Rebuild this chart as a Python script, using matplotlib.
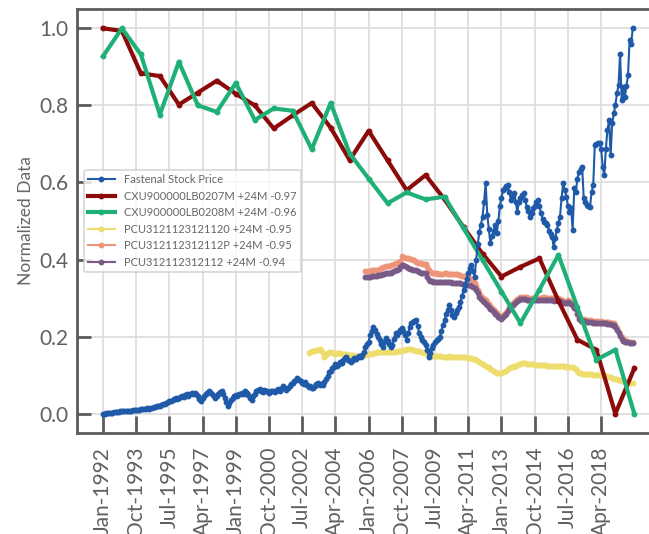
import numpy as np
import pandas as pd
import matplotlib
matplotlib.use('Agg')
import matplotlib.pyplot as plt

plt.rcParams['font.family'] = ['Lato', 'DejaVu Sans']

# monthly axis, Jan-1992 .. Dec-2019
months = pd.date_range('1992-01-01', '2019-12-01', freq='MS')

# Fastenal stock price, monthly, one row per year 1992..2019
fastenal = [
    0.000, 0.000, 0.001, 0.002, 0.002, 0.003, 0.003, 0.004, 0.004, 0.005, 0.005, 0.006,
    0.006, 0.006, 0.007, 0.007, 0.008, 0.007, 0.008, 0.009, 0.009, 0.010, 0.009, 0.010,
    0.011, 0.012, 0.012, 0.013, 0.014, 0.013, 0.015, 0.016, 0.017, 0.018, 0.019, 0.020,
    0.021, 0.022, 0.024, 0.026, 0.028, 0.030, 0.032, 0.034, 0.036, 0.038, 0.040, 0.038,
    0.040, 0.043, 0.046, 0.044, 0.048, 0.050, 0.047, 0.052, 0.054, 0.050, 0.055, 0.052,
    0.045, 0.038, 0.032, 0.040, 0.046, 0.050, 0.055, 0.060, 0.056, 0.050, 0.045, 0.040,
    0.045, 0.052, 0.056, 0.058, 0.050, 0.040, 0.030, 0.019, 0.028, 0.036, 0.040, 0.045,
    0.048, 0.045, 0.050, 0.052, 0.055, 0.050, 0.058, 0.054, 0.048, 0.042, 0.036, 0.045,
    0.052, 0.058, 0.062, 0.064, 0.060, 0.056, 0.062, 0.060, 0.058, 0.055, 0.060, 0.058,
    0.058, 0.056, 0.062, 0.065, 0.060, 0.066, 0.071, 0.066, 0.062, 0.068, 0.072, 0.078,
    0.080, 0.085, 0.088, 0.092, 0.088, 0.084, 0.080, 0.078, 0.082, 0.075, 0.070, 0.072,
    0.068, 0.066, 0.072, 0.076, 0.079, 0.074, 0.078, 0.075, 0.082, 0.090, 0.098, 0.108,
    0.112, 0.118, 0.122, 0.128, 0.125, 0.130, 0.135, 0.132, 0.140, 0.145, 0.148, 0.140,
    0.136, 0.135, 0.140, 0.145, 0.142, 0.148, 0.150, 0.146, 0.152, 0.160, 0.174, 0.180,
    0.187, 0.205, 0.215, 0.226, 0.218, 0.208, 0.200, 0.190, 0.182, 0.174, 0.185, 0.196,
    0.188, 0.180, 0.172, 0.178, 0.195, 0.209, 0.205, 0.212, 0.218, 0.222, 0.215, 0.205,
    0.192, 0.210, 0.225, 0.235, 0.238, 0.240, 0.243, 0.228, 0.209, 0.200, 0.192, 0.185,
    0.178, 0.165, 0.148, 0.158, 0.170, 0.179, 0.185, 0.190, 0.195, 0.200, 0.215, 0.230,
    0.243, 0.258, 0.270, 0.282, 0.268, 0.255, 0.252, 0.262, 0.270, 0.278, 0.290, 0.305,
    0.320, 0.335, 0.350, 0.365, 0.378, 0.386, 0.370, 0.356, 0.400, 0.440, 0.472, 0.490,
    0.511, 0.550, 0.598, 0.516, 0.480, 0.442, 0.460, 0.475, 0.490, 0.468, 0.500, 0.540,
    0.560, 0.580, 0.585, 0.590, 0.593, 0.575, 0.554, 0.565, 0.572, 0.550, 0.524, 0.548,
    0.560, 0.568, 0.572, 0.555, 0.537, 0.525, 0.511, 0.520, 0.533, 0.540, 0.548, 0.554,
    0.540, 0.520, 0.505, 0.498, 0.494, 0.490, 0.475, 0.465, 0.459, 0.433, 0.455, 0.477,
    0.495, 0.511, 0.560, 0.598, 0.580, 0.563, 0.540, 0.524, 0.533, 0.477, 0.585, 0.576,
    0.610, 0.628, 0.635, 0.641, 0.559, 0.550, 0.541, 0.538, 0.537, 0.576, 0.593, 0.697,
    0.700, 0.702, 0.703, 0.688, 0.641, 0.619, 0.688, 0.736, 0.762, 0.671, 0.753, 0.779,
    0.800, 0.831, 0.852, 0.934, 0.813, 0.848, 0.822, 0.850, 0.878, 0.969, 0.960, 1.000,
]

# annual series (January of 1992..2020)
years = list(range(1992, 2021))
cxu_0207 = [1.000, 0.993, 0.883, 0.876, 0.802, 0.833, 0.864, 0.830, 0.800, 0.740,
            0.774, 0.806, 0.742, 0.658, 0.734, 0.657, 0.580, 0.619, 0.556, 0.484,
            0.415, 0.356, 0.381, 0.403, 0.293, 0.192, 0.166, 0.000, 0.118]
cxu_0208 = [0.927, 1.000, 0.932, 0.776, 0.913, 0.800, 0.783, 0.858, 0.762, 0.792,
            0.786, 0.686, 0.806, 0.675, 0.610, 0.546, 0.574, 0.556, 0.563, 0.481,
            0.399, 0.317, 0.235, 0.322, 0.412, 0.276, 0.140, 0.166, 0.000]

# PPI series, monthly from Nov-2002 (yellow) / Nov-2005 (others) to Dec-2019
pcu_1120_start = '2002-11-01'
pcu_1120 = [
    0.157, 0.160,
    0.162, 0.163, 0.164, 0.165, 0.166, 0.167, 0.165, 0.158, 0.148, 0.152, 0.158, 0.161,
    0.160, 0.158, 0.157, 0.156, 0.157, 0.158, 0.157, 0.156, 0.155, 0.154, 0.155, 0.153,
    0.153, 0.152, 0.152, 0.151, 0.150, 0.150, 0.150, 0.151, 0.152, 0.153, 0.153, 0.154,
    0.155, 0.156, 0.156, 0.157, 0.158, 0.159, 0.159, 0.159, 0.160, 0.159, 0.160, 0.159,
    0.159, 0.159, 0.160, 0.159, 0.160, 0.161, 0.162, 0.163, 0.162, 0.164, 0.165, 0.166,
    0.167, 0.168, 0.168, 0.167, 0.166, 0.165, 0.164, 0.163, 0.162, 0.161, 0.160, 0.158,
    0.157, 0.155, 0.150, 0.148, 0.149, 0.150, 0.150, 0.149, 0.150, 0.150, 0.149, 0.148,
    0.148, 0.148, 0.148, 0.149, 0.148, 0.148, 0.148, 0.147, 0.148, 0.148, 0.147, 0.147,
    0.146, 0.146, 0.145, 0.145, 0.144, 0.144, 0.143, 0.142, 0.140, 0.137, 0.134, 0.131,
    0.129, 0.127, 0.125, 0.122, 0.120, 0.117, 0.114, 0.111, 0.108, 0.106, 0.105, 0.105,
    0.106, 0.108, 0.110, 0.112, 0.115, 0.118, 0.120, 0.122, 0.124, 0.125, 0.127, 0.129,
    0.130, 0.131, 0.131, 0.131, 0.130, 0.130, 0.129, 0.128, 0.128, 0.127, 0.127, 0.127,
    0.127, 0.127, 0.126, 0.126, 0.126, 0.125, 0.125, 0.125, 0.124, 0.124, 0.124, 0.124,
    0.124, 0.124, 0.123, 0.123, 0.123, 0.122, 0.122, 0.121, 0.121, 0.120, 0.118, 0.115,
    0.110, 0.106, 0.105, 0.104, 0.104, 0.103, 0.103, 0.102, 0.102, 0.102, 0.101, 0.101,
    0.101, 0.101, 0.101, 0.101, 0.100, 0.099, 0.098, 0.097, 0.096, 0.095, 0.093, 0.091,
    0.090, 0.089, 0.088, 0.087, 0.086, 0.085, 0.084, 0.083, 0.082, 0.081, 0.080, 0.080,
]

pcu_112p_start = '2005-11-01'
pcu_112p = [
    0.369, 0.370,
    0.370, 0.371, 0.372, 0.372, 0.373, 0.373, 0.374, 0.376, 0.378, 0.380, 0.381, 0.382,
    0.382, 0.383, 0.385, 0.386, 0.388, 0.390, 0.392, 0.393, 0.395, 0.408, 0.407, 0.405,
    0.404, 0.403, 0.402, 0.401, 0.400, 0.398, 0.394, 0.392, 0.391, 0.390, 0.389, 0.389,
    0.389, 0.380, 0.372, 0.369, 0.366, 0.365, 0.364, 0.364, 0.363, 0.362, 0.362, 0.363,
    0.364, 0.364, 0.363, 0.362, 0.362, 0.362, 0.363, 0.363, 0.362, 0.360, 0.360, 0.358,
    0.357, 0.356, 0.355, 0.354, 0.352, 0.350, 0.345, 0.338, 0.332, 0.321, 0.312, 0.305,
    0.300, 0.297, 0.295, 0.290, 0.285, 0.280, 0.275, 0.270, 0.266, 0.261, 0.257, 0.254,
    0.252, 0.255, 0.260, 0.265, 0.270, 0.278, 0.282, 0.286, 0.290, 0.294, 0.298, 0.300,
    0.302, 0.304, 0.304, 0.303, 0.302, 0.300, 0.298, 0.300, 0.301, 0.300, 0.299, 0.300,
    0.300, 0.301, 0.302, 0.302, 0.301, 0.300, 0.300, 0.301, 0.300, 0.299, 0.300, 0.300,
    0.300, 0.298, 0.296, 0.292, 0.291, 0.293, 0.295, 0.293, 0.290, 0.285, 0.280, 0.278,
    0.265, 0.250, 0.244, 0.244, 0.245, 0.244, 0.243, 0.243, 0.242, 0.241, 0.240, 0.240,
    0.240, 0.240, 0.239, 0.240, 0.239, 0.239, 0.239, 0.238, 0.237, 0.236, 0.235, 0.235,
    0.230, 0.222, 0.213, 0.205, 0.198, 0.192, 0.190, 0.188, 0.187, 0.186, 0.185, 0.185,
]

pcu_112_start = '2005-11-01'
pcu_112 = [
    0.354, 0.355,
    0.355, 0.356, 0.357, 0.357, 0.358, 0.358, 0.359, 0.360, 0.361, 0.362, 0.363, 0.364,
    0.365, 0.366, 0.366, 0.368, 0.370, 0.372, 0.374, 0.376, 0.380, 0.386, 0.385, 0.383,
    0.380, 0.378, 0.376, 0.375, 0.374, 0.373, 0.372, 0.370, 0.368, 0.366, 0.365, 0.364,
    0.364, 0.355, 0.347, 0.345, 0.344, 0.343, 0.343, 0.343, 0.343, 0.342, 0.342, 0.343,
    0.343, 0.343, 0.342, 0.341, 0.341, 0.340, 0.340, 0.339, 0.338, 0.338, 0.338, 0.337,
    0.337, 0.336, 0.335, 0.334, 0.333, 0.332, 0.330, 0.326, 0.320, 0.312, 0.304, 0.298,
    0.293, 0.289, 0.285, 0.281, 0.276, 0.272, 0.268, 0.264, 0.260, 0.256, 0.252, 0.249,
    0.247, 0.250, 0.255, 0.260, 0.266, 0.272, 0.277, 0.281, 0.285, 0.289, 0.293, 0.295,
    0.297, 0.298, 0.298, 0.297, 0.296, 0.295, 0.294, 0.295, 0.296, 0.295, 0.294, 0.295,
    0.295, 0.296, 0.296, 0.296, 0.295, 0.294, 0.294, 0.295, 0.294, 0.293, 0.294, 0.294,
    0.294, 0.292, 0.290, 0.287, 0.286, 0.288, 0.290, 0.288, 0.285, 0.280, 0.275, 0.272,
    0.260, 0.246, 0.240, 0.240, 0.241, 0.240, 0.239, 0.239, 0.238, 0.237, 0.236, 0.236,
    0.236, 0.236, 0.235, 0.236, 0.235, 0.235, 0.235, 0.234, 0.233, 0.232, 0.231, 0.231,
    0.226, 0.218, 0.209, 0.201, 0.194, 0.189, 0.187, 0.186, 0.185, 0.184, 0.184, 0.184,
]

labels = ['Fastenal Stock Price',
          'CXU900000LB0207M +24M -0.97',
          'CXU900000LB0208M +24M -0.96',
          'PCU3121123121120 +24M -0.95',
          'PCU312112312112P +24M -0.95',
          'PCU312112312112 +24M -0.94']
colors = ['#1f5aa8', '#8c0a0a', '#1fb078', '#eedc6c', '#ee9479', '#795a86']


def month_index(start, n):
    # months since Jan-1992
    t0 = pd.Timestamp(start)
    off = (t0.year - 1992) * 12 + (t0.month - 1)
    return np.arange(off, off + n)


fig = plt.figure(figsize=(6.49, 5.34), dpi=100)
ax = fig.add_axes([77 / 649, 101 / 534, 582 / 649, 424 / 534])

ax.plot(np.arange(len(fastenal)), fastenal, color=colors[0], lw=1.5,
        marker='o', ms=3.2, label=labels[0], zorder=6)
yr_x = [(y - 1992) * 12 for y in years]
ax.plot(yr_x, cxu_0207, color=colors[1], lw=3.0, marker='o', ms=3.2,
        label=labels[1], zorder=4)
ax.plot(yr_x, cxu_0208, color=colors[2], lw=3.0, marker='o', ms=3.2,
        label=labels[2], zorder=5)
ax.plot(month_index(pcu_1120_start, len(pcu_1120)), pcu_1120, color=colors[3],
        lw=1.5, marker='o', ms=3.2, label=labels[3], zorder=3)
ax.plot(month_index(pcu_112p_start, len(pcu_112p)), pcu_112p, color=colors[4],
        lw=1.5, marker='o', ms=3.2, label=labels[4], zorder=3)
ax.plot(month_index(pcu_112_start, len(pcu_112)), pcu_112, color=colors[5],
        lw=1.5, marker='o', ms=3.2, label=labels[5], zorder=3)

ax.set_xlim(-16.4, 351.6)
ax.set_ylim(-0.05, 1.05)

tick_pos = np.arange(0, len(months), 21)
ax.set_xticks(tick_pos)
ax.set_xticklabels([months[i].strftime('%b-%Y') for i in tick_pos], rotation=90)
ax.set_yticks([0.0, 0.2, 0.4, 0.6, 0.8, 1.0])

ax.grid(True, color='#dcdcdc', lw=1.2)
ax.set_axisbelow(True)
for s in ax.spines.values():
    s.set_color('#5c5c5c')
    s.set_linewidth(2)
ax.tick_params(axis='both', direction='in', colors='#5c5c5c', width=2,
               labelsize=15, labelcolor='#606060')
ax.tick_params(axis='x', length=12, pad=10)
ax.tick_params(axis='y', length=10, pad=6)

ax.set_ylabel('Normalized Data', fontsize=12.5, color='#666666', labelpad=4)

leg = ax.legend(loc='center left', fontsize=8, handlelength=2.4,
                frameon=True, labelcolor='#666666', borderaxespad=0.6)
leg.get_frame().set_edgecolor('#cccccc')
leg.get_frame().set_linewidth(1.2)

fig.savefig('out.png', dpi=100)
